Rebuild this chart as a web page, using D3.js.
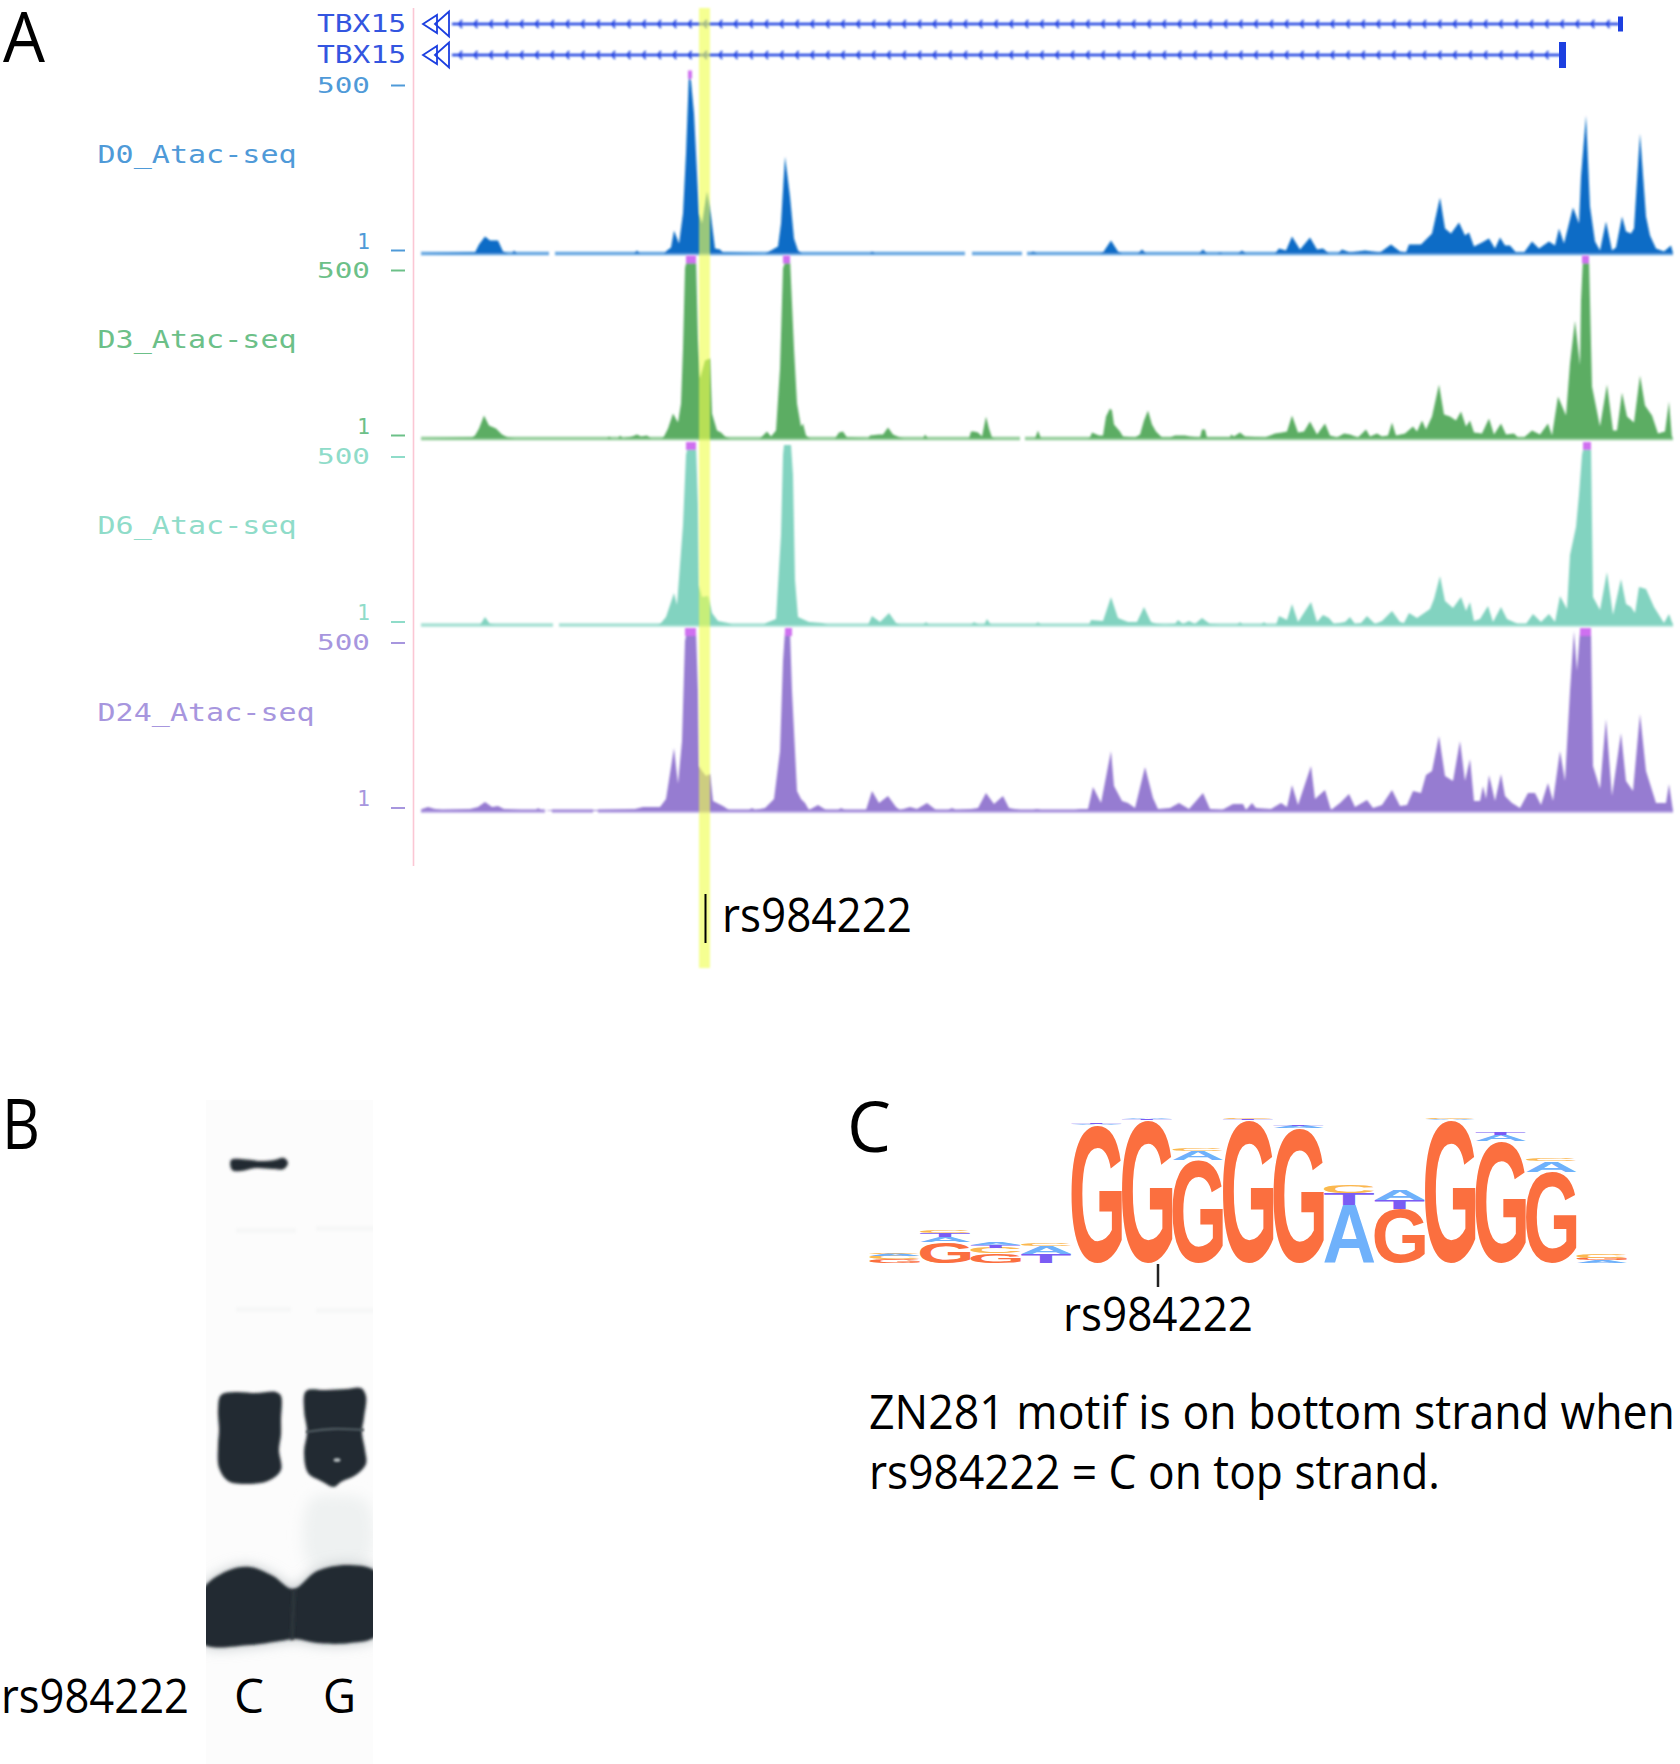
<!DOCTYPE html>
<html><head><meta charset="utf-8">
<script src="https://cdnjs.cloudflare.com/ajax/libs/d3/7.8.5/d3.min.js"></script>
<style>html,body{margin:0;padding:0;background:#fff}svg{display:block}</style>
</head><body><svg id="fig" width="1680" height="1764"></svg>
<script>
// ---------- Panel A: ATAC-seq signal, [genomic bin, signal] ----------
const trackNames = ["D0_Atac-seq","D3_Atac-seq","D6_Atac-seq","D24_Atac-seq"];
const d0Signal = [[1,0],[55,1],[59,9],[65,17],[70,13],[78,13],[83,2],[88,0],[92,0],[94,3],[97,0],[214,0],[217,3],[220,0],[244,0],[247,3],[251,6],[254,23],[259,10],[263,40],[266,100],[269,180],[271,172],[274,140],[278,60],[279,40],[282,30],[287,62],[291,37],[295,5],[300,4],[303,1],[345,0],[351,3],[358,7],[361,30],[365,97],[370,57],[374,15],[378,3],[382,0],[450,0],[452,2],[455,0],[610,0],[613,2],[617,0],[680,0],[683,1],[691,13],[698,2],[702,0],[718,0],[722,4],[726,0],[779,0],[783,4],[787,0],[797,0],[800,1],[803,0],[818,0],[822,3],[826,0],[855,0],[859,5],[866,3],[872,17],[880,4],[890,16],[897,4],[903,5],[909,0],[918,0],[922,4],[930,1],[945,3],[960,1],[971,9],[980,2],[986,1],[989,9],[1001,9],[1006,14],[1012,20],[1020,56],[1025,25],[1031,20],[1039,31],[1045,18],[1049,21],[1054,7],[1062,11],[1069,15],[1075,5],[1080,16],[1085,8],[1090,8],[1096,1],[1104,1],[1112,12],[1119,5],[1129,12],[1135,8],[1139,25],[1144,10],[1153,46],[1159,30],[1161,77],[1166,138],[1170,47],[1175,12],[1180,3],[1186,32],[1192,3],[1196,6],[1202,37],[1206,22],[1211,20],[1214,25],[1220,120],[1226,37],[1230,18],[1236,5],[1244,2],[1251,8],[1253,0]];
const d3Signal = [[1,0],[52,1],[55,3],[59,10],[64,23],[69,13],[76,10],[82,4],[88,1],[95,0],[187,0],[189,2],[192,0],[198,0],[200,3],[203,0],[212,2],[217,4],[221,2],[227,3],[231,0],[242,0],[244,2],[248,10],[253,25],[258,16],[261,35],[263,90],[265,170],[267,180],[276,180],[278,100],[280,60],[285,78],[290,80],[292,25],[297,8],[301,6],[305,2],[310,0],[340,0],[343,3],[347,7],[351,2],[356,8],[360,70],[363,170],[366,180],[370,180],[374,90],[377,35],[381,12],[383,15],[386,3],[390,0],[415,0],[419,6],[423,7],[427,1],[448,0],[450,3],[459,4],[463,4],[468,11],[473,4],[480,1],[484,0],[503,0],[505,4],[508,0],[549,0],[551,7],[554,7],[558,6],[562,2],[566,22],[569,10],[572,1],[575,0],[615,0],[618,8],[621,0],[668,0],[670,1],[672,6],[679,3],[683,3],[686,22],[690,30],[692,28],[694,14],[700,7],[703,2],[715,1],[720,4],[724,18],[728,28],[732,14],[736,7],[742,1],[750,1],[755,3],[765,3],[770,2],[780,1],[782,9],[785,9],[787,1],[810,1],[811,4],[814,2],[820,6],[825,2],[845,1],[855,5],[862,6],[867,7],[872,23],[878,6],[884,7],[890,17],[897,4],[905,15],[910,3],[917,1],[924,5],[930,4],[938,1],[946,9],[950,2],[957,5],[962,2],[968,3],[972,16],[976,3],[985,5],[993,12],[997,7],[1002,18],[1006,9],[1012,22],[1019,54],[1024,24],[1030,22],[1036,18],[1041,27],[1046,12],[1050,18],[1054,6],[1062,5],[1069,20],[1074,4],[1081,15],[1086,4],[1094,5],[1098,1],[1104,1],[1112,8],[1120,4],[1128,15],[1132,3],[1138,42],[1146,23],[1150,75],[1155,118],[1160,73],[1161,138],[1163,180],[1169,180],[1172,52],[1180,12],[1187,54],[1193,8],[1197,8],[1202,46],[1207,22],[1214,16],[1220,63],[1225,33],[1232,23],[1238,5],[1245,7],[1249,37],[1252,0]];
const d6Signal = [[1,0],[60,0],[65,8],[70,1],[75,0],[238,0],[241,2],[246,8],[254,32],[257,20],[263,100],[266,170],[268,180],[276,180],[278,120],[279,40],[282,28],[288,29],[292,12],[298,4],[308,2],[312,0],[344,0],[346,2],[356,6],[361,90],[363,170],[364,180],[371,180],[373,150],[375,45],[378,8],[389,3],[402,2],[408,0],[448,0],[452,9],[460,3],[469,12],[476,2],[480,0],[503,0],[506,3],[509,0],[551,0],[554,3],[559,0],[564,0],[567,6],[571,0],[615,0],[618,3],[621,0],[669,0],[671,5],[683,4],[691,28],[698,7],[708,3],[717,3],[724,18],[731,3],[737,1],[745,0],[755,1],[758,5],[763,1],[769,4],[775,1],[782,7],[790,1],[800,0],[817,0],[820,3],[823,0],[841,0],[844,3],[847,0],[856,0],[859,9],[867,5],[872,21],[878,3],[891,23],[897,3],[903,10],[909,7],[914,1],[925,3],[930,8],[935,1],[941,2],[947,9],[955,1],[962,4],[972,14],[980,3],[984,2],[989,12],[997,7],[1010,16],[1014,26],[1020,49],[1025,24],[1033,17],[1041,28],[1046,14],[1050,23],[1054,4],[1060,6],[1068,19],[1073,3],[1081,18],[1087,6],[1098,1],[1106,1],[1113,11],[1121,3],[1129,11],[1135,3],[1140,29],[1147,16],[1150,70],[1156,98],[1159,130],[1162,170],[1164,180],[1171,180],[1173,28],[1180,15],[1187,53],[1193,10],[1201,46],[1206,21],[1211,18],[1215,12],[1219,38],[1226,36],[1234,18],[1244,2],[1249,11],[1253,0]];
const d24Signal = [[1,0],[2,2],[8,4],[15,2],[22,1],[50,2],[58,4],[65,9],[72,4],[78,5],[84,2],[100,1],[116,1],[118,3],[121,1],[125,0],[132,1],[173,1],[178,1],[215,2],[223,4],[240,4],[246,12],[254,63],[258,27],[262,70],[265,170],[267,180],[276,180],[278,120],[279,45],[282,40],[286,35],[290,37],[293,10],[303,5],[309,1],[329,1],[332,3],[335,1],[345,3],[354,12],[360,60],[363,150],[365,180],[370,180],[372,120],[377,20],[381,12],[385,8],[389,1],[398,6],[406,1],[418,1],[421,3],[425,1],[446,1],[452,20],[459,8],[468,15],[476,4],[480,1],[490,4],[497,2],[507,8],[516,1],[528,1],[532,3],[536,1],[551,2],[558,3],[566,18],[574,7],[583,15],[589,3],[600,1],[613,1],[617,2],[621,1],[655,1],[660,2],[668,2],[673,24],[681,8],[691,60],[694,25],[702,10],[708,8],[715,3],[725,44],[733,13],[738,2],[750,3],[759,8],[769,2],[783,18],[790,2],[802,1],[813,7],[823,7],[826,1],[832,8],[836,3],[851,2],[861,8],[867,4],[872,26],[878,6],[891,45],[895,12],[905,21],[911,1],[920,8],[929,17],[935,4],[947,11],[953,3],[962,6],[972,21],[980,5],[987,6],[993,20],[1001,18],[1006,36],[1012,40],[1019,75],[1025,35],[1033,30],[1040,70],[1045,30],[1050,52],[1054,10],[1060,10],[1063,25],[1066,12],[1069,36],[1075,10],[1081,37],[1085,15],[1092,8],[1100,3],[1108,18],[1115,18],[1121,6],[1128,28],[1133,10],[1140,60],[1145,30],[1150,120],[1154,180],[1157,140],[1160,180],[1171,180],[1173,45],[1180,22],[1186,92],[1192,15],[1201,78],[1206,30],[1213,20],[1220,97],[1226,40],[1236,8],[1246,8],[1249,27],[1253,0]];
const signals = [d0Signal,d3Signal,d6Signal,d24Signal];
const coverage = [[[1,129],[135,545],[552,602],[607,1253]],[[1,600],[605,1253]],[[1,133],[139,1253]],[[1,125],[132,173],[178,1253]]];
const clipped = [[[268,272]],[[266,276],[363,370],[1162,1169]],[[266,276],[1163,1171]],[[265,276],[365,372],[1160,1171]]];
const axisTicks = [1,500];
const genes = [{name:"TBX15",start:32,end:1199},{name:"TBX15",start:32,end:1143}];
const snpBin = 285.5;

const trackColor = ["#0a6cc6","#5bad63","#82d3c0","#967bd1"];
const stripColor = ["#6aa9e2","#96cf9c","#a8e2d5","#b5a1e3"];
const labelColor = ["#4f9ad8","#6cc088","#8fdcc9","#a796de"];
const baseY = [253.5,438.5,625,811];
const labelY = [163,348,534,721];
const mono = "'DejaVu Sans Mono',monospace", sans = "'Open Sans','Noto Sans',sans-serif";

const svg = d3.select("#fig");
const defs = svg.append("defs");
const blur = (id,s)=>defs.append("filter").attr("id",id).attr("filterUnits","userSpaceOnUse")
  .attr("x",0).attr("y",0).attr("width",1680).attr("height",1764)
  .append("feGaussianBlur").attr("stdDeviation",s);
blur("b1",0.8); blur("b2",1.6); blur("b3",7);
function fit(g,x,y,w,str,size,fam,fill){
  return g.append("text").attr("x",x).attr("y",y).attr("font-family",fam).attr("font-size",size)
    .attr("fill",fill).attr("textLength",w).attr("lengthAdjust","spacingAndGlyphs").text(str);
}
const xBin = d3.scaleLinear().domain([0,1260]).range([420,1680]);

// pink guide
const A = svg.append("g");
A.append("line").attr("x1",413.5).attr("x2",413.5).attr("y1",8).attr("y2",866).attr("stroke","#fbc7d4").attr("stroke-width",1.6);

// genes
const geneBlue = "#1c3fe0";
const geneY = d3.scalePoint().domain([0,1]).range([24,55]);
genes.forEach((g,i)=>{
  const y = geneY(i), G = A.append("g");
  fit(G,317,y+8,89,g.name,25,mono,"#3355e0");
  const M = G.append("g").attr("filter","url(#b1)");
  M.append("line").attr("x1",xBin(g.start)).attr("x2",xBin(g.end)).attr("y1",y).attr("y2",y).attr("stroke",geneBlue).attr("stroke-width",2.6);
  M.selectAll(".chev").data(d3.range(g.start+7,g.end-4,15.3)).join("path")
    .attr("d",d=>`M${xBin(d)+3},${y-4}L${xBin(d)},${y}L${xBin(d)+3},${y+4}`)
    .attr("fill","none").attr("stroke",geneBlue).attr("stroke-width",1.8);
  [[3,17,9],[15,29,12.5]].forEach(([a,b,h])=>{
    G.append("path").attr("d",`M${xBin(a)},${y}L${xBin(b)},${y-h}L${xBin(b)},${y+h}Z`).attr("fill","none").attr("stroke",geneBlue).attr("stroke-width",1.8);
  });
  const w = i===0?5:7, h = i===0?7.5:13;
  G.append("rect").attr("x",xBin(g.end)-(i?4:1)).attr("y",y-h).attr("width",w).attr("height",2*h).attr("fill",geneBlue);
});

// tracks
trackNames.forEach((name,i)=>{
  const y = d3.scaleLinear().domain([0,180]).range([baseY[i],baseY[i]-180]);
  const T = A.append("g");
  fit(T,97.5,labelY[i],name.length*18.1,name,25,mono,labelColor[i]);
  const yAxis = d3.scaleLog().domain([1,500]).range([baseY[i]-3.5,baseY[i]-168.5]);
  const ax = T.append("g").attr("transform","translate(405,0)").call(d3.axisLeft(yAxis).tickValues(axisTicks).tickSize(14).tickPadding(21).tickFormat(d3.format("d")));
  ax.select(".domain").remove();
  ax.selectAll("line").attr("stroke",labelColor[i]).attr("stroke-width",2);
  ax.selectAll("text").attr("font-family",mono).attr("font-size",22).attr("fill",labelColor[i])
    .attr("dy",d=>d===500?"7":"-2").attr("textLength",d=>d===500?53:13).attr("lengthAdjust","spacingAndGlyphs");
  const P = T.append("g").attr("filter","url(#b1)");
  P.selectAll(".strip").data(coverage[i]).join("rect").attr("x",d=>xBin(d[0])).attr("width",d=>xBin(d[1])-xBin(d[0]))
    .attr("y",y(0)-1.8).attr("height",3.6).attr("fill",stripColor[i]);
  P.append("path").datum(signals[i]).attr("fill",trackColor[i])
    .attr("d",d3.area().x(d=>xBin(d[0])).y0(y(0)).y1(d=>y(d[1])).curve(d3.curveLinear));
  P.selectAll(".cap").data(clipped[i]).join("rect").attr("x",d=>xBin(d[0])).attr("width",d=>xBin(d[1])-xBin(d[0]))
    .attr("y",y(183)).attr("height",y(175)-y(183)).attr("fill","#cf6ff0");
});

// SNP highlight
A.append("rect").attr("x",xBin(279)).attr("width",xBin(290)-xBin(279)).attr("y",8).attr("height",960)
  .attr("fill","#f0ff50").attr("opacity",.62).attr("filter","url(#b1)");
A.append("line").attr("x1",xBin(snpBin)).attr("x2",xBin(snpBin)).attr("y1",894).attr("y2",943).attr("stroke","#000").attr("stroke-width",2);
fit(A,722,932,190,"rs984222",47,sans,"#000");
fit(A,3,62,42,"A",70,sans,"#000");

// ---------- Panel B: gel ----------
const gelTopBand = [[25,60],[40,59.5],[55,61],[68,60],[78,58],[82,63],[78,69],[66,69],[50,68],[35,71],[26,70]];
const gelLeftBand = [[15,295],[30,292],[50,293],[70,292],[75,296],[75,320],[75,335],[73,350],[75,370],[62,381],[40,384],[22,381],[13,368],[12,345],[13,330],[12,310]];
const gelRightBand = [[100,291],[120,290],[140,289],[155,288],[160,296],[158,318],[156,332],[159,350],[160,364],[150,375],[135,382],[128,387],[115,381],[102,373],[98,352],[101,332],[98,310]];
const gelBlob = [[-4,491],[21,471],[44,467],[67,476],[87,489],[111,471],[144,465],[171,473],[171,535],[144,543],[111,543],[89,539],[74,541],[44,545],[-4,543]];
const gelSmear = [[104,400],[132,395],[161,402],[161,462],[104,466]];
const gelFaint = [[30,128,60],[110,126,60],[30,207,55],[110,208,62]];
const gx = d3.scaleLinear().domain([0,167]).range([206,373]);
const gy = d3.scaleLinear().domain([0,664]).range([1100,1764]);
const blob = d3.line().x(d=>gx(d[0])).y(d=>gy(d[1])).curve(d3.curveCatmullRomClosed.alpha(.5));
const B = svg.append("g");
defs.append("clipPath").attr("id","gelclip").append("rect").attr("x",gx(0)).attr("y",gy(0)).attr("width",gx(167)-gx(0)).attr("height",gy(664)-gy(0));
const gel = B.append("g").attr("clip-path","url(#gelclip)");
gel.append("rect").attr("x",gx(0)).attr("y",gy(0)).attr("width",gx(167)-gx(0)).attr("height",gy(664)-gy(0)).attr("fill","#fcfcfc");
gel.append("path").attr("d",blob(gelSmear)).attr("fill","#eef1f1").attr("filter","url(#b3)");
gel.selectAll(".faint").data(gelFaint).join("rect").attr("x",d=>gx(d[0])).attr("y",d=>gy(d[1])).attr("width",d=>gx(d[2]+d[0])-gx(d[0])).attr("height",5).attr("fill","#f6f7f7").attr("filter","url(#b2)");
gel.append("path").attr("d",blob(gelBlob)).attr("fill","#b9c0c3").attr("filter","url(#b3)");
[gelTopBand,gelLeftBand,gelRightBand,gelBlob].forEach(d=>{
  gel.append("path").attr("d",blob(d)).attr("fill","#232c32").attr("filter","url(#b2)");
});
gel.append("line").attr("x1",gx(88)).attr("x2",gx(86)).attr("y1",gy(490)).attr("y2",gy(540)).attr("stroke","#2e383e").attr("stroke-width",3).attr("filter","url(#b2)");
gel.append("path").attr("d",d3.line().x(d=>gx(d[0])).y(d=>gy(d[1])).curve(d3.curveBasis)([[100,332],[125,328],[158,330]])).attr("fill","none").attr("stroke","#4d595f").attr("stroke-width",2.4).attr("filter","url(#b1)");
gel.append("ellipse").attr("cx",gx(131)).attr("cy",gy(360)).attr("rx",3.5).attr("ry",2).attr("fill","#aab1b4").attr("filter","url(#b1)");
fit(B,1,1713,188,"rs984222",47,sans,"#000");
fit(B,234,1713,30,"C",47,sans,"#000");
fit(B,323,1713,33,"G",47,sans,"#000");
fit(B,2,1149,38,"B",70,sans,"#000");

// ---------- Panel C: sequence logo, stacks bottom to top in bits ----------
const logoPositions = d3.range(15);
const logoStacks = [
  [["G",.05],["C",.05],["A",.03],["C",.02]],
  [["G",.29],["A",.07],["T",.06],["C",.03]],
  [["G",.13],["C",.08],["T",.04],["A",.03]],
  [["T",.13],["A",.1],["C",.03]],
  [["G",1.9],["A",.02],["T",.02]],
  [["G",1.97],["T",.02],["A",.01]],
  [["G",1.42],["A",.13],["C",.03]],
  [["G",1.97],["T",.02],["C",.01]],
  [["G",1.86],["A",.03],["T",.02]],
  [["A",.8],["T",.16],["C",.11]],
  [["G",.75],["T",.12],["A",.15]],
  [["G",1.97],["A",.02],["C",.01]],
  [["G",1.68],["A",.08],["T",.03]],
  [["G",1.26],["A",.15],["C",.03]],
  [["A",.04],["G",.03],["C",.05]]
];
const baseColor = {G:"#fb6f3f",A:"#6fb1fb",T:"#7a5cf4",C:"#fbb84f"};
const posX = d3.scaleBand().domain(logoPositions).range([869.5,1627]);
const bits = d3.scaleLinear().domain([0,2]).range([1263,1118]);
const ctx = document.createElement("canvas").getContext("2d");
const logoFont = "bold 100px 'Liberation Sans'";
ctx.font = logoFont;
const C = svg.append("g");
logoPositions.forEach(p=>{
  let sum = 0;
  logoStacks[p].forEach(([ch,b])=>{
    const m = ctx.measureText(ch);
    const inkW = m.actualBoundingBoxLeft+m.actualBoundingBoxRight, inkH = m.actualBoundingBoxAscent+m.actualBoundingBoxDescent;
    const top = bits(sum+b), bot = bits(sum), sx = posX.bandwidth()/inkW, sy = (bot-top)/inkH;
    C.append("text").attr("font-family","'Liberation Sans'").attr("font-weight","bold").attr("font-size",100).attr("fill",baseColor[ch])
      .attr("transform",`translate(${posX(p)+m.actualBoundingBoxLeft*sx},${bot-m.actualBoundingBoxDescent*sy}) scale(${sx},${sy})`).text(ch);
    sum += b;
  });
});
C.append("line").attr("x1",1158).attr("x2",1158).attr("y1",1264).attr("y2",1287).attr("stroke","#222").attr("stroke-width",2.5);
fit(C,1063,1331,190,"rs984222",47,sans,"#000");
fit(C,869,1429,806,"ZN281 motif is on bottom strand when",47,sans,"#000");
fit(C,869,1489,571,"rs984222 = C on top strand.",47,sans,"#000");
fit(C,847,1152,44,"C",70,sans,"#000");
</script></body></html>
